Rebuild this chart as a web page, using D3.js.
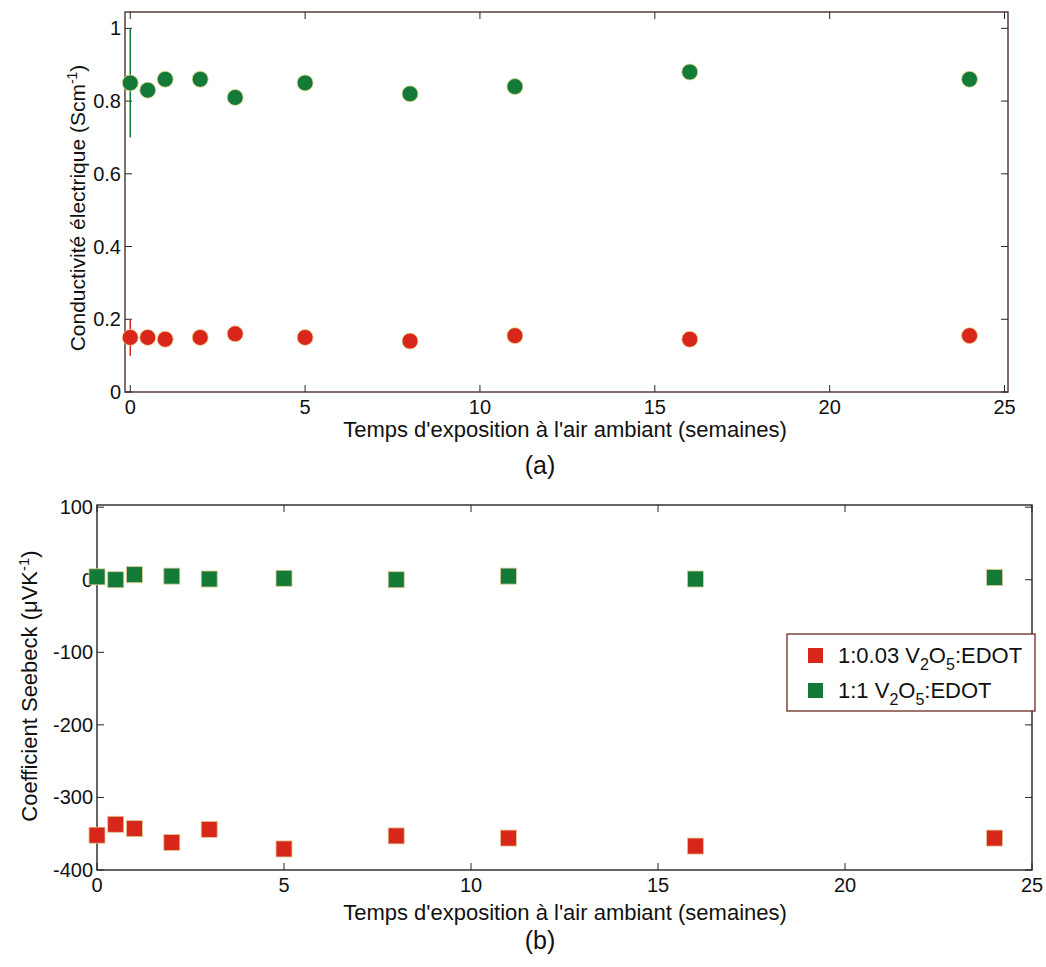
<!DOCTYPE html>
<html>
<head>
<meta charset="utf-8">
<script src="https://cdn.jsdelivr.net/npm/d3@7"></script>
<style>
  body { margin: 0; background: #fff; }
  text { font-family: "Liberation Sans", Arial, sans-serif; fill: #111; }
</style>
</head>
<body>
<div id="chart"></div>
<script>
// Exposure time in weeks (shared by both panels)
var weeks = [0, 0.5, 1, 2, 3, 5, 8, 11, 16, 24];

// (a) electrical conductivity, S/cm
var sigmaLow = [0.15, 0.15, 0.145, 0.15, 0.16, 0.15, 0.14, 0.155, 0.145, 0.155];
var sigmaHigh = [0.85, 0.83, 0.86, 0.86, 0.81, 0.85, 0.82, 0.84, 0.88, 0.86];
var sigmaLowErr = [0.05, 0, 0, 0, 0, 0, 0, 0, 0, 0];
var sigmaHighErr = [0.15, 0, 0, 0, 0, 0, 0, 0, 0, 0];

// (b) Seebeck coefficient, µV/K
var seebeckLow = [-352, -337, -343, -362, -344, -371, -353, -356, -367, -356];
var seebeckHigh = [4, 0, 7, 5, 1, 2, 0, 5, 1, 3];

var xTicksA = [0, 5, 10, 15, 20, 25];
var yTicksA = [0, 0.2, 0.4, 0.6, 0.8, 1];
var yTicksB = [100, 0, -100, -200, -300, -400];

var seriesNames = ['1:0.03 V|2|O|5|:EDOT', '1:1 V|2|O|5|:EDOT'];
var RED = '#d8261b', GREEN = '#137a38';

var svg = d3.select('#chart').append('svg')
    .attr('width', 1046)
    .attr('height', 967);

function DrawFrame(g, x, y, xTicks, yTicks, yFormat, frameColor) {
  var x0 = x.range()[0], x1 = x.range()[1];
  var y0 = y.range()[0], y1 = y.range()[1];
  const TICK = 7;

  g.append('rect')
      .attr('x', x0).attr('y', y1)
      .attr('width', x1 - x0).attr('height', y0 - y1)
      .attr('fill', 'none')
      .attr('stroke', frameColor)
      .attr('stroke-width', 1.4);

  // MATLAB style: ticks point inward on all four sides
  xTicks.forEach((t) => {
    var px = x(t);
    g.append('line').attr('x1', px).attr('x2', px)
        .attr('y1', y0).attr('y2', y0 - TICK).attr('stroke', '#2a2222');
    g.append('line').attr('x1', px).attr('x2', px)
        .attr('y1', y1).attr('y2', y1 + TICK).attr('stroke', '#2a2222');
    g.append('text').attr('x', px).attr('y', y0 + 22)
        .attr('text-anchor', 'middle').attr('font-size', 20).text(t);
  });
  yTicks.forEach((t) => {
    var py = y(t);
    g.append('line').attr('x1', x0).attr('x2', x0 + TICK)
        .attr('y1', py).attr('y2', py).attr('stroke', '#2a2222');
    g.append('line').attr('x1', x1).attr('x2', x1 - TICK)
        .attr('y1', py).attr('y2', py).attr('stroke', '#2a2222');
    g.append('text').attr('x', x0 - 4).attr('y', py + 7)
        .attr('text-anchor', 'end').attr('font-size', 20).text(yFormat(t));
  });
}

function SubText(sel, label) {
  // label parts separated by '|', odd parts become subscripts
  label.split('|').forEach((part, i) => {
    if (i % 2 == 1) {
      sel.append('tspan').attr('dy', 7).attr('font-size', 16).text(part);
    } else {
      sel.append('tspan').attr('dy', i == 0 ? 0 : -7).text(part);
    }
  });
}

// ---------- panel (a) ----------
var xa = d3.scaleLinear().domain([-0.15, 25.1]).range([125, 1008]);
var ya = d3.scaleLinear().domain([0, 1.045]).range([392, 12]);
var ga = svg.append('g');
DrawFrame(ga, xa, ya, xTicksA, yTicksA, (d) => d == 0 || d == 1 ? d : d.toFixed(1), '#4a3330');

[[sigmaHigh, sigmaHighErr, GREEN], [sigmaLow, sigmaLowErr, RED]].forEach((s) => {
  var vals = s[0], errs = s[1], col = s[2];
  weeks.forEach((w, i) => {
    if (errs[i] > 0) {
      ga.append('line')
          .attr('x1', xa(w)).attr('x2', xa(w))
          .attr('y1', ya(vals[i] - errs[i])).attr('y2', ya(vals[i] + errs[i]))
          .attr('stroke', col).attr('stroke-width', 1.5);
    }
  });
  ga.append('g').selectAll('circle').data(weeks).join('circle')
      .attr('cx', (d) => xa(d))
      .attr('cy', (d, i) => ya(vals[i]))
      .attr('r', 8)
      .attr('fill', col)
      .attr('stroke', '#e8d890')
      .attr('stroke-width', 0.8);
});

var ylabA = ga.append('text')
    .attr('transform', 'translate(85,' + 208 + ') rotate(-90)')
    .attr('text-anchor', 'middle').attr('font-size', 21);
ylabA.append('tspan').text('Conductivité électrique (Scm');
ylabA.append('tspan').attr('dy', -8).attr('font-size', 14).text('-1');
ylabA.append('tspan').attr('dy', 8).text(')');

ga.append('text').attr('x', 565).attr('y', 437)
    .attr('text-anchor', 'middle').attr('font-size', 22)
    .text("Temps d'exposition à l'air ambiant (semaines)");
ga.append('text').attr('x', 540).attr('y', 474)
    .attr('text-anchor', 'middle').attr('font-size', 25).text('(a)');

// ---------- panel (b) ----------
var xb = d3.scaleLinear().domain([0, 25]).range([97, 1032]);
var yb = d3.scaleLinear().domain([-400, 103]).range([870, 505]);
var gb = svg.append('g');
DrawFrame(gb, xb, yb, xTicksA, yTicksB, (d) => d, '#2a2222');

const SQ = 16;
[[seebeckHigh, GREEN], [seebeckLow, RED]].forEach((s) => {
  var vals = s[0], col = s[1];
  gb.append('g').selectAll('rect').data(weeks).join('rect')
      .attr('x', (d) => xb(d) - SQ / 2)
      .attr('y', (d, i) => yb(vals[i]) - SQ / 2)
      .attr('width', SQ).attr('height', SQ)
      .attr('fill', col)
      .attr('stroke', '#e0c890')
      .attr('stroke-width', 0.8);
});

var ylabB = gb.append('text')
    .attr('transform', 'translate(37,' + 686 + ') rotate(-90)')
    .attr('text-anchor', 'middle').attr('font-size', 22);
ylabB.append('tspan').text('Coefficient Seebeck (μVK');
ylabB.append('tspan').attr('dy', -8).attr('font-size', 15).text('-1');
ylabB.append('tspan').attr('dy', 8).text(')');

gb.append('text').attr('x', 565).attr('y', 920)
    .attr('text-anchor', 'middle').attr('font-size', 22)
    .text("Temps d'exposition à l'air ambiant (semaines)");
gb.append('text').attr('x', 540).attr('y', 949)
    .attr('text-anchor', 'middle').attr('font-size', 25).text('(b)');

// legend
var leg = gb.append('g').attr('transform', 'translate(787,634)');
leg.append('rect').attr('width', 248).attr('height', 77)
    .attr('fill', '#fff').attr('stroke', '#6a2a20').attr('stroke-width', 1.3);
[RED, GREEN].forEach((col, i) => {
  var cy = 21 + i * 35;
  leg.append('rect').attr('x', 21).attr('y', cy - 7)
      .attr('width', 15).attr('height', 15).attr('fill', col);
  var t = leg.append('text').attr('x', 51).attr('y', cy + 8).attr('font-size', 22);
  SubText(t, seriesNames[i]);
});
</script>
</body>
</html>
